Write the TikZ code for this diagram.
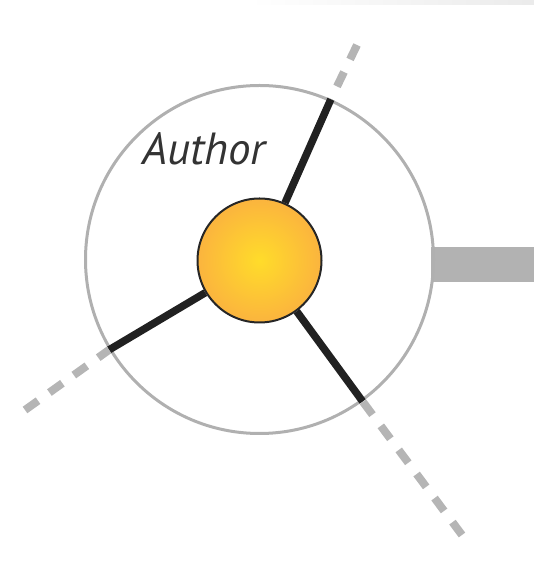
\documentclass[tikz,border=0pt]{standalone}
\usepackage{fontspec}
\newfontfamily\labelfont{PT Sans}
\usepackage{tikz}
\definecolor{coreinner}{RGB}{255,220,42}
\definecolor{coreouter}{RGB}{251,180,62}

\begin{document}
\begin{tikzpicture}[x=1pt,y=1pt,
	ring node/.style={circle,draw=black!31,line width=3pt,minimum size=348pt,inner sep=0pt},
	core node/.style={circle,draw=black!85,line width=2pt,minimum size=124pt,inner sep=0pt,inner color=coreinner,outer color=coreouter},
	spoke/.style={draw=black!87,line width=7.5pt},
	trail/.style={draw=black!29,line width=8pt,dash pattern=on 16pt off 14pt}]

	\useasboundingbox (0,0) rectangle (534,583);
	\shade[left color=white,right color=black!8] (250,578) rectangle (534,583);

	\node[fill=black!30,minimum width=104pt,minimum height=35pt,inner sep=0pt,anchor=west] (bar) at (431,318) {};
	\node[ring node] (ring) at (259.5,323.5) {};
	\node[core node] (core) at (259.5,322.5) {};
	\node[anchor=base west,inner sep=0pt,text=black!80,font=\labelfont\itshape\fontsize{45}{45}\selectfont] (name) at (142,418) {Author};

	\coordinate (end1) at (357,538);
	\coordinate (end2) at (25,173);
	\coordinate (end3) at (462,48);

	\path[spoke]
	(core) edge (ring.66)
	       edge (ring.211.5)
	       edge (ring.-54)
	;
	\path[trail]
	(end1) edge (ring.66)
	(end2) edge (ring.211.5)
	(end3) edge (ring.-54)
	;
\end{tikzpicture}
\end{document}
